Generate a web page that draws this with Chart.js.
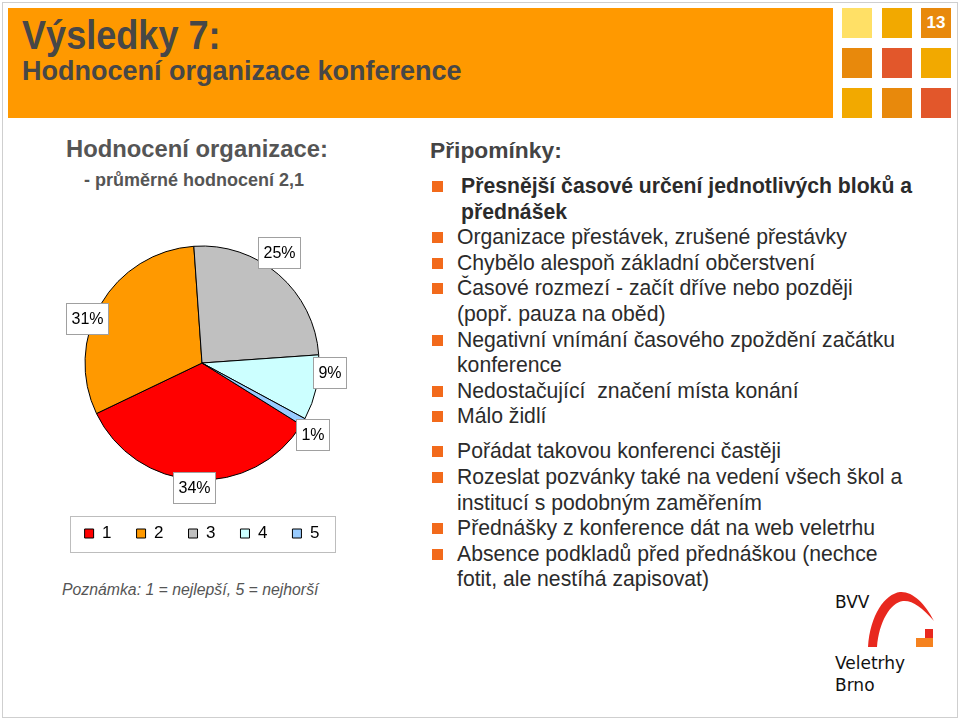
<!DOCTYPE html>
<html>
<head>
<meta charset="utf-8">
<script src="https://cdn.jsdelivr.net/npm/chart.js@4.4.1/dist/chart.umd.min.js"></script>
<style>
  html, body { margin: 0; padding: 0; background: #fff; }
  #slide { position: relative; width: 960px; height: 720px; overflow: hidden; background: #fff;
           font-family: "Liberation Sans", Arial, Helvetica, sans-serif; }
  #frame { position: absolute; left: 2px; top: 2px; width: 954px; height: 714px; border: 1px solid #cfcfcf; }
  #hdr { position: absolute; left: 8px; top: 8px; width: 825px; height: 110px; background: #FF9900; }
  #t1 { position: absolute; left: 14px; top: 10px; font-weight: bold; font-size: 41px; color: #474747; line-height: 34px;
        white-space: nowrap; transform: scaleX(0.88); transform-origin: 0 50%; }
  #t2 { position: absolute; left: 14px; top: 50px; font-weight: bold; font-size: 27px; color: #474747; line-height: 26px; white-space: nowrap; }
  .sq { position: absolute; width: 30px; height: 30px; }
  #num { color: #fff; font-weight: bold; font-size: 17px; text-align: center; line-height: 30px; }
  #lh1 { position: absolute; left: 66px; top: 135px; font-weight: bold; font-size: 23.8px; color: #555; white-space: nowrap; line-height: 28px; }
  #lh2 { position: absolute; left: 84px; top: 169px; font-weight: bold; font-size: 18px; color: #555; white-space: nowrap; line-height: 22px; }
  #note { position: absolute; left: 62px; top: 580px; font-style: italic; font-size: 15.8px; color: #555; white-space: nowrap; line-height: 20px; }
  #chartbox { position: absolute; left: 52px; top: 226px; width: 300px; height: 336px; }
  #rh { position: absolute; left: 430px; top: 136px; font-weight: bold; font-size: 22.8px; color: #444; white-space: nowrap; line-height: 28px; }
  #list { position: absolute; left: 457px; top: 173px; font-size: 21.2px; color: #2b2b2b; line-height: 25.6px; white-space: nowrap; }
  #list .it { position: relative; }
  #list .it::before { content: ""; position: absolute; left: -25px; top: 8px; width: 11px; height: 11px; background: #F26A1B; }
  #list .b { font-weight: bold; padding-left: 4px; }
  #list .gap { margin-top: 9.5px; }
  #logo { position: absolute; left: 830px; top: 585px; width: 120px; height: 120px; }
  .lt { position: absolute; font-family: "DejaVu Sans", sans-serif; font-size: 17px; color: #111; white-space: nowrap; line-height: 20px; }
</style>
</head>
<body>
<div id="slide">
  <div id="frame"></div>
  <div id="hdr">
    <div id="t1">Výsledky 7:</div>
    <div id="t2">Hodnocení organizace konference</div>
  </div>
  <div class="sq" style="left:842px;top:8px;background:#FFE066"></div>
  <div class="sq" style="left:882px;top:8px;background:#F2A900"></div>
  <div class="sq" id="num" style="left:921px;top:8px;background:#E8890C">13</div>
  <div class="sq" style="left:842px;top:48px;background:#E8890C"></div>
  <div class="sq" style="left:882px;top:48px;background:#E2572B"></div>
  <div class="sq" style="left:921px;top:48px;background:#F2A900"></div>
  <div class="sq" style="left:842px;top:88px;background:#F2A900"></div>
  <div class="sq" style="left:882px;top:88px;background:#E8890C"></div>
  <div class="sq" style="left:921px;top:88px;background:#E2572B"></div>

  <div id="lh1">Hodnocení organizace:</div>
  <div id="lh2">- průměrné hodnocení 2,1</div>
  <div id="chartbox"><canvas id="c" width="300" height="336"></canvas></div>
  <div id="note">Poznámka: 1 = nejlepší, 5 = nejhorší</div>

  <div id="rh">Připomínky:</div>
  <div id="list">
    <div class="it b">Přesnější časové určení jednotlivých bloků a<br>přednášek</div>
    <div class="it">Organizace přestávek, zrušené přestávky</div>
    <div class="it">Chybělo alespoň základní občerstvení</div>
    <div class="it">Časové rozmezí - začít dříve nebo později<br>(popř. pauza na oběd)</div>
    <div class="it">Negativní vnímání časového zpoždění začátku<br>konference</div>
    <div class="it">Nedostačující&nbsp; značení místa konání</div>
    <div class="it">Málo židlí</div>
    <div class="it gap">Pořádat takovou konferenci častěji</div>
    <div class="it">Rozeslat pozvánky také na vedení všech škol a<br>institucí s podobným zaměřením</div>
    <div class="it">Přednášky z konference dát na web veletrhu</div>
    <div class="it">Absence podkladů před přednáškou (nechce<br>fotit, ale nestíhá zapisovat)</div>
  </div>

  <div class="lt" style="left:835px;top:592px;">BVV</div>
  <div class="lt" style="left:835px;top:653px;">Veletrhy</div>
  <div class="lt" style="left:835px;top:675px;">Brno</div>
  <svg id="logo" viewBox="830 585 120 120" width="120" height="120">
    <path d="M868 647 C 870 615, 885 594, 900 592 C 912 591, 925 603, 934 621 C 922 607, 912 600, 903 601 C 890 603, 879 622, 877 647 Z" fill="#E8281E"/>
    <rect x="925" y="629" width="8" height="9" fill="#E8281E"/>
    <rect x="916" y="638" width="17" height="9" fill="#F5821F"/>
  </svg>
</div>

<script>
// ---- data ----
const categories = ['1', '2', '3', '4', '5'];
const shares = [34, 31, 25, 9, 1];
const sliceColors = ['#FF0000', '#FF9900', '#C0C0C0', '#CCFFFF', '#99CCFF'];
// label placement tweaks (degrees / px beyond the rim), layout only
const labelAngleNudge = [0.5, -9.2, -6.1, -8, 2.8];
const labelRadialGap = [8, 6, 18, 11, 15];

const FONT = '"Liberation Sans", Arial, sans-serif';

const labelPlugin = {
  id: 'boxLabels',
  afterDraw(chart) {
    const ctx = chart.ctx;
    const meta = chart.getDatasetMeta(0);
    ctx.save();
    ctx.font = '16px ' + FONT;
    meta.data.forEach((arc, i) => {
      const p = arc.getProps(['startAngle', 'endAngle', 'outerRadius', 'x', 'y'], true);
      const a = (p.startAngle + p.endAngle) / 2 + labelAngleNudge[i] * Math.PI / 180;
      const r = p.outerRadius + labelRadialGap[i];
      const cx = p.x + Math.cos(a) * r;
      const cy = p.y + Math.sin(a) * r;
      const text = shares[i] + '%';
      const w = Math.round(ctx.measureText(text).width + 10);
      const h = 31;
      const x0 = Math.round(cx - w / 2) + 0.5, y0 = Math.round(cy - h / 2) + 0.5;
      ctx.fillStyle = '#fff';
      ctx.fillRect(x0, y0, w, h);
      ctx.strokeStyle = '#a0a0a0';
      ctx.lineWidth = 1;
      ctx.strokeRect(x0, y0, w, h);
      ctx.fillStyle = '#000';
      ctx.textAlign = 'center';
      ctx.textBaseline = 'middle';
      ctx.fillText(text, x0 + w / 2, y0 + h / 2 + 1);
    });
    ctx.restore();
  }
};

const legendBorder = {
  id: 'legendBorder',
  afterDraw(chart) {
    const hb = chart.legend && chart.legend.legendHitBoxes;
    if (!hb || !hb.length) return;
    const left = hb[0].left;
    const last = hb[hb.length - 1];
    const right = last.left + last.width;
    const cx = (left + right) / 2;
    const cy = hb[0].top + hb[0].height / 2;
    const ctx = chart.ctx;
    ctx.save();
    ctx.strokeStyle = '#bdbdbd';
    ctx.lineWidth = 1;
    ctx.strokeRect(Math.round(cx - 132.5) + 0.5, Math.round(cy - 18) + 0.5, 265, 36);
    ctx.restore();
  }
};

new Chart(document.getElementById('c'), {
  type: 'pie',
  data: {
    labels: categories,
    datasets: [{
      data: shares,
      backgroundColor: sliceColors,
      borderColor: '#000',
      borderWidth: 1,
      radius: 117
    }]
  },
  options: {
    responsive: false,
    animation: false,
    rotation: 122,
    layout: { padding: { bottom: 10 } },
    plugins: {
      legend: {
        position: 'bottom',
        labels: {
          boxWidth: 9,
          boxHeight: 9,
          padding: 25,
          color: '#000',
          font: { family: FONT, size: 17 }
        }
      },
      tooltip: { enabled: false }
    }
  },
  plugins: [labelPlugin, legendBorder]
});
</script>
</body>
</html>
